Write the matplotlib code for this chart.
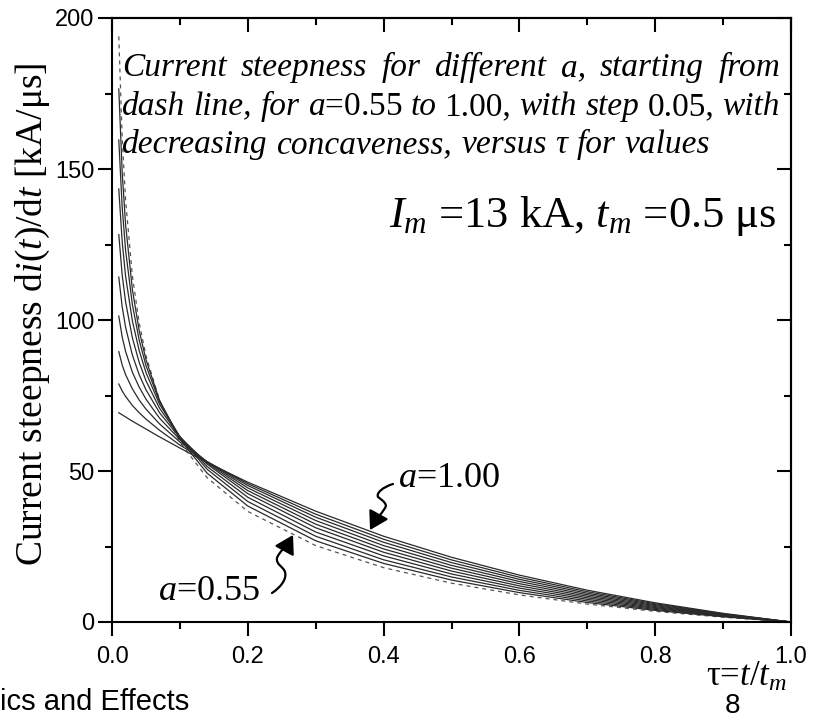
import matplotlib
matplotlib.use("Agg")
import matplotlib.pyplot as plt
from matplotlib.path import Path
from matplotlib.patches import FancyArrowPatch
from matplotlib.ticker import MultipleLocator, FormatStrFormatter, NullFormatter

plt.rcParams['mathtext.fontset'] = 'custom'
plt.rcParams['mathtext.rm'] = 'Liberation Serif'
plt.rcParams['mathtext.it'] = 'Liberation Serif:italic'
plt.rcParams['mathtext.bf'] = 'Liberation Serif:bold'

SERIF = 'Liberation Serif'
SANS = 'Liberation Sans'

# normalised time tau = t/t_m
tau = [0.01, 0.015, 0.02, 0.03, 0.04, 0.05, 0.07, 0.10, 0.14, 0.20,
       0.30, 0.40, 0.50, 0.60, 0.70, 0.80, 0.90, 1.00]

# current steepness di/dt in kA/us for each a (Im = 13 kA, tm = 0.5 us)
di_055 = [193.9, 160.3, 139.7, 114.6, 99.1, 88.2, 73.4, 59.5, 47.8, 36.6,
          25.3, 18.0, 12.86, 8.97, 5.94, 3.53, 1.58, 0]
di_060 = [176.5, 148.9, 131.6, 110.1, 96.5, 86.9, 73.4, 60.5, 49.3, 38.4,
          26.9, 19.4, 13.89, 9.73, 6.46, 3.85, 1.73, 0]
di_065 = [159.6, 137.3, 123.1, 105.1, 93.4, 84.9, 73.0, 61.1, 50.6, 39.9,
          28.4, 20.6, 14.91, 10.48, 6.98, 4.16, 1.87, 0]
di_070 = [143.4, 125.9, 114.5, 99.7, 89.9, 82.6, 72.1, 61.4, 51.5, 41.3,
          29.8, 21.9, 15.90, 11.23, 7.50, 4.48, 2.01, 0]
di_075 = [128.3, 114.9, 106.0, 94.1, 86.0, 79.9, 70.8, 61.3, 52.3, 42.5,
          31.2, 23.1, 16.87, 11.96, 8.01, 4.79, 2.16, 0]
di_080 = [114.2, 104.4, 97.6, 88.4, 81.9, 76.9, 69.3, 61.0, 52.7, 43.5,
          32.4, 24.2, 17.82, 12.69, 8.52, 5.10, 2.30, 0]
di_085 = [101.3, 94.4, 89.6, 82.7, 77.8, 73.8, 67.5, 60.4, 53.0, 44.4,
          33.6, 25.3, 18.75, 13.41, 9.03, 5.42, 2.44, 0]
di_090 = [89.5, 85.1, 81.9, 77.2, 73.5, 70.5, 65.6, 59.6, 53.1, 45.2,
          34.7, 26.4, 19.67, 14.12, 9.53, 5.73, 2.59, 0]
di_095 = [78.8, 76.5, 74.7, 71.7, 69.3, 67.2, 63.5, 58.6, 53.1, 45.8,
          35.7, 27.4, 20.56, 14.82, 10.03, 6.04, 2.73, 0]
di_100 = [69.3, 68.6, 67.9, 66.5, 65.2, 63.9, 61.3, 57.6, 52.8, 46.3,
          36.7, 28.4, 21.43, 15.52, 10.53, 6.35, 2.87, 0]

a_values = [0.55, 0.60, 0.65, 0.70, 0.75, 0.80, 0.85, 0.90, 0.95, 1.00]
curves = [di_055, di_060, di_065, di_070, di_075,
          di_080, di_085, di_090, di_095, di_100]

x_ticks = [0.0, 0.2, 0.4, 0.6, 0.8, 1.0]
y_ticks = [0, 50, 100, 150, 200]

fig = plt.figure(figsize=(8.25, 7.16), dpi=100)
ax = fig.add_axes([112 / 825, 1 - 622 / 716, 679 / 825, 604 / 716])

for a, di in zip(a_values, curves):
    if a == a_values[0]:
        ax.plot(tau, di, color='#555555', lw=0.9, dashes=(3.2, 3.2))
    else:
        ax.plot(tau, di, color='#2a2a2a', lw=0.9)

ax.set_xlim(0, 1)
ax.set_ylim(0, 200)
ax.set_xticks(x_ticks)
ax.set_yticks(y_ticks)
ax.xaxis.set_minor_locator(MultipleLocator(0.1))
ax.yaxis.set_minor_locator(MultipleLocator(25))
ax.xaxis.set_major_formatter(FormatStrFormatter('%.1f'))
ax.yaxis.set_major_formatter(FormatStrFormatter('%d'))
for s in ax.spines.values():
    s.set_linewidth(1.5)
ax.tick_params(which='both', direction='out', width=1.5, color='k')
ax.tick_params(which='major', length=10)
ax.tick_params(which='minor', length=5)
ax.tick_params(axis='x', pad=7)
ax.tick_params(axis='y', pad=2.5)
for lab in ax.get_xticklabels() + ax.get_yticklabels():
    lab.set_family(SANS)
    lab.set_fontsize(17)

# mirrored axes with inward ticks
top = ax.secondary_xaxis('top')
top.set_xticks(x_ticks)
top.xaxis.set_minor_locator(MultipleLocator(0.1))
top.xaxis.set_major_formatter(NullFormatter())
top.tick_params(which='both', direction='in', width=1.5)
top.tick_params(which='major', length=10)
top.tick_params(which='minor', length=5)
top.spines['top'].set_linewidth(1.5)

right = ax.secondary_yaxis('right')
right.set_yticks(y_ticks)
right.yaxis.set_minor_locator(MultipleLocator(25))
right.yaxis.set_major_formatter(NullFormatter())
right.tick_params(which='both', direction='in', width=1.5)
right.tick_params(which='major', length=10)
right.tick_params(which='minor', length=5)
right.spines['right'].set_linewidth(1.5)

ax.set_ylabel(r'Current steepness d$i(t)$/d$t$ [kA/μs]',
              family=SERIF, fontsize=27)
ax.yaxis.set_label_coords(-0.088, 0.509)

fig.text(787 / 825, 1 - 686 / 716, r'τ=$t/t_m$', family=SERIF, fontsize=25,
         ha='right', va='baseline')

renderer = fig.canvas.get_renderer()
ax_w = ax.get_window_extent(renderer).width


def justified_line(words, y, x0, x1, size=24):
    texts = []
    for w, style in words:
        texts.append(ax.text(0, y, w, transform=ax.transAxes, family=SERIF,
                             style=style, fontsize=size, va='baseline'))
    widths = [t.get_window_extent(renderer).width / ax_w for t in texts]
    gap = (x1 - x0 - sum(widths)) / (len(texts) - 1)
    x = x0
    for t, w in zip(texts, widths):
        t.set_x(x)
        x += w + gap


it, rm = 'italic', 'normal'
line1 = [('Current', it), ('steepness', it), ('for', it), ('different', it),
         ('a,', it), ('starting', it), ('from', it)]
line2 = [('dash', it), ('line,', it), ('for', it), ('$a$=0.55', rm),
         ('to', it), ('1.00,', rm), ('with', it), ('step', it),
         ('0.05,', rm), ('with', it)]
line3 = [('decreasing', it), ('concaveness,', it), ('versus', it),
         ('τ', it), ('for', it), ('values', it)]
justified_line(line1, 0.904, 0.0147, 0.9838)
justified_line(line2, 0.839, 0.0147, 0.9838)
justified_line(line3, 0.7765, 0.0147, 0.881)

ax.text(0.979, 0.654, r'$I_m$ =13 kA, $t_m$ =0.5 μs', transform=ax.transAxes,
        family=SERIF, fontsize=32, ha='right', va='baseline')

ax.text(0.421, 44.7, r'$a$=1.00', family=SERIF, fontsize=26, va='baseline')
ax.text(0.0677, 7.3, r'$a$=0.55', family=SERIF, fontsize=26, va='baseline')

C4 = Path.CURVE4
arrow_hi = Path([(0.4138, 45.70), (0.3991, 44.70), (0.3888, 42.72), (0.3918, 41.39),
                 (0.3976, 40.40), (0.4065, 39.07), (0.4021, 37.75),
                 (0.3976, 36.09), (0.3873, 33.44), (0.3800, 30.46)],
                [Path.MOVETO] + [C4] * 9)
arrow_lo = Path([(0.2356, 9.60), (0.2489, 11.59), (0.2577, 14.24), (0.2548, 16.56),
                 (0.2518, 18.54), (0.2415, 18.87), (0.2430, 21.19),
                 (0.2459, 23.18), (0.2577, 25.17), (0.2666, 28.81)],
                [Path.MOVETO] + [C4] * 9)
for p in (arrow_hi, arrow_lo):
    ax.add_patch(FancyArrowPatch(path=p, arrowstyle='-|>,head_length=1.0,head_width=0.6',
                                 mutation_scale=11, lw=1.6, color='k',
                                 transform=ax.transData, clip_on=False))

# footer of the slide
fig.text(0.0, 1 - 710 / 716, 'ics and Effects', family=SANS,
         fontsize=21, ha='left', va='baseline')
fig.text(733 / 825, 1 - 713 / 716, '8', family=SANS,
         fontsize=20, ha='center', va='baseline')

fig.savefig('out.png', dpi=100)
